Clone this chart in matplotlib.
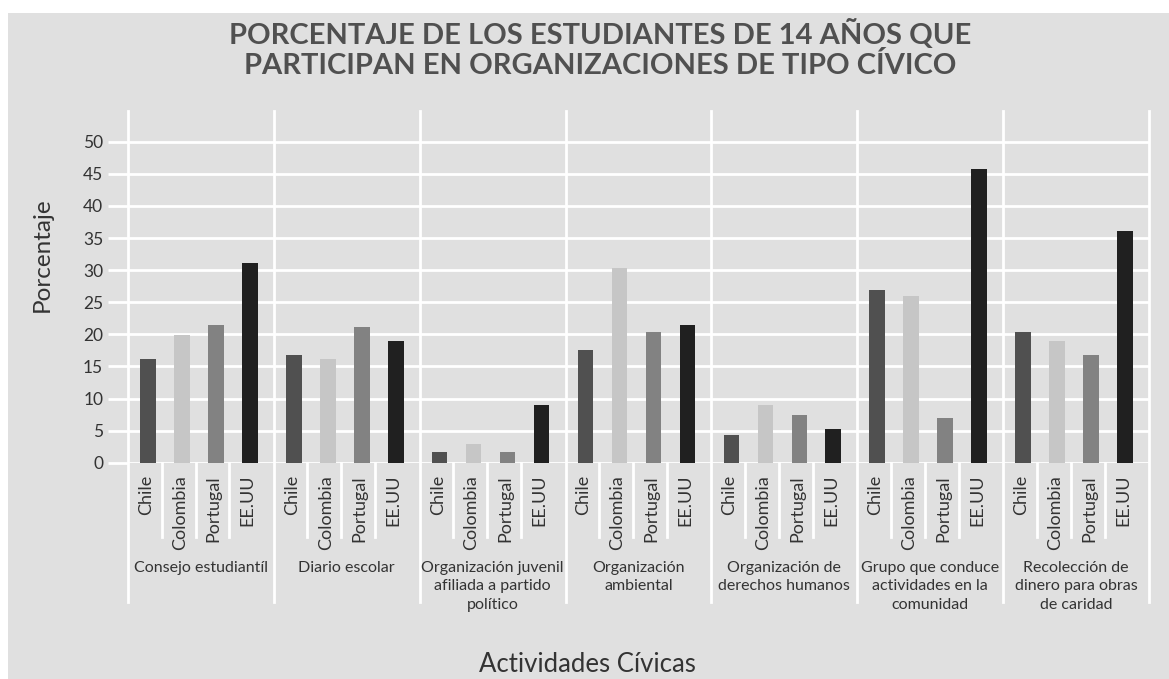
import matplotlib.pyplot as plt
from matplotlib.patches import Rectangle
import numpy as np

plt.rcParams['font.family'] = ['Lato', 'DejaVu Sans']

# data
categories = ['Consejo estudiantíl', 'Diario escolar',
              'Organización juvenil\nafiliada a partido\npolítico',
              'Organización\nambiental', 'Organización de\nderechos humanos',
              'Grupo que conduce\nactividades en la\ncomunidad',
              'Recolección de\ndinero para obras\nde caridad']
countries = ['Chile', 'Colombia', 'Portugal', 'EE.UU']
chile = [16.2, 16.7, 1.6, 17.5, 4.3, 26.9, 20.4]
colombia = [19.9, 16.2, 2.9, 30.4, 9.0, 26.0, 19.0]
portugal = [21.4, 21.2, 1.6, 20.3, 7.5, 6.9, 16.7]
eeuu = [31.1, 19.0, 9.0, 21.5, 5.3, 45.7, 36.1]
series = [chile, colombia, portugal, eeuu]
colors = ['#505050', '#c6c6c6', '#828282', '#202020']
yticks = [0, 5, 10, 15, 20, 25, 30, 35, 40, 45, 50]

W, H = 1169, 679
bg = '#e0e0e0'
txt = '#333333'

fig = plt.figure(figsize=(W / 100, H / 100), dpi=100, facecolor='white')
fig.patches.append(Rectangle((8 / W, 0), 1 - 8 / W, 1 - 13 / H, transform=fig.transFigure,
                             facecolor=bg, edgecolor='none', zorder=-5))

y0, ytop = 462.7, 111
ax = fig.add_axes([128 / W, 1 - y0 / H, (1149 - 128) / W, (y0 - ytop) / H])
ax.set_facecolor(bg)
ppu = 6.42
ymax = (y0 - ytop) / ppu
cw = 146 / 34  # category width in slot units
off = 0.588
bw = 0.46

for j, vals in enumerate(series):
    x = np.arange(len(categories)) * cw + off + j
    ax.bar(x, vals, width=bw, color=colors[j], zorder=3)

ax.set_xlim(0, len(categories) * cw)
ax.set_ylim(0, ymax)
ax.set_yticks(yticks)
ax.set_xticks([])
ax.yaxis.grid(True, color='white', lw=2, zorder=1)
ax.tick_params(axis='y', length=14.4, width=2, color='white', pad=3.5,
               labelsize=12.5, labelcolor=txt)
for s in ax.spines.values():
    s.set_visible(False)


def ydata(px):
    return (y0 - px) / ppu


# category separators
for i in range(len(categories) + 1):
    ax.plot([i * cw, i * cw], [ymax, ydata(602)], color='white', lw=2,
            clip_on=False, zorder=2)

for i, cat in enumerate(categories):
    base = i * cw
    for j, c in enumerate(countries):
        ax.text(base + off + j - 0.06, ydata(475), c, rotation=90, ha='center', va='top',
                fontsize=13, color=txt)
        if j < 3:
            xs = base + off + j + 0.4
            ax.plot([xs, xs], [0, ydata(537)], color='white', lw=2, clip_on=False, zorder=2)
    ax.text(base + cw / 2, ydata(561), cat, ha='center', va='top', fontsize=11.5,
            color=txt, linespacing=1.4)

fig.text(600 / W, 1 - 49 / H, 'PORCENTAJE DE LOS ESTUDIANTES DE 14 AÑOS QUE\n'
         'PARTICIPAN EN ORGANIZACIONES DE TIPO CÍVICO', ha='center', va='center',
         fontsize=21, fontweight='bold', color='#505050', linespacing=1.15)
fig.text(42 / W, 1 - 255 / H, 'Porcentaje', rotation=90, ha='center', va='center',
         fontsize=17.5, color=txt)
fig.text(587 / W, 1 - 665 / H, 'Actividades Cívicas', ha='center', va='center',
         fontsize=18.5, color=txt)

fig.savefig('out.png', dpi=100, facecolor='white')
